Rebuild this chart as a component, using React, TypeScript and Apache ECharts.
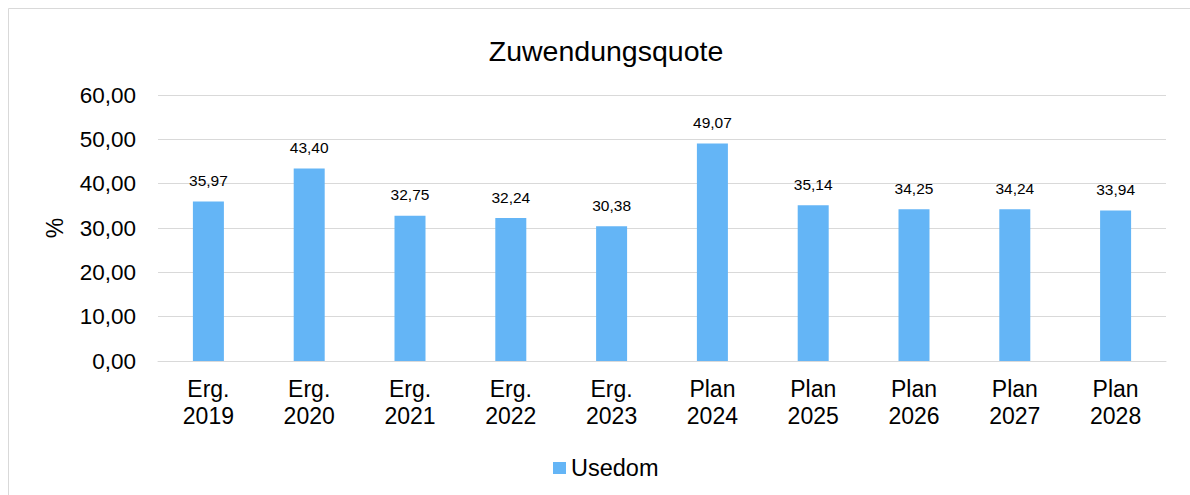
import React, { useEffect, useRef } from "react";
import * as echarts from "echarts";

const categories = [
  "Erg.\n2019", "Erg.\n2020", "Erg.\n2021", "Erg.\n2022", "Erg.\n2023",
  "Plan\n2024", "Plan\n2025", "Plan\n2026", "Plan\n2027", "Plan\n2028",
];
const usedom = [35.97, 43.4, 32.75, 32.24, 30.38, 49.07, 35.14, 34.25, 34.24, 33.94];
const seriesName = "Usedom";
const titleText = "Zuwendungsquote";
const yAxisName = "%";

const fmt = (v: number) => v.toFixed(2).replace(".", ",");

export default function App() {
  const ref = useRef<HTMLDivElement>(null);
  useEffect(() => {
    if (!ref.current) return;
    const chart = echarts.init(ref.current, null, { renderer: "svg" });
    const font = "'Liberation Sans', Arial, sans-serif";
    chart.setOption({
      animation: false,
      backgroundColor: "#ffffff",
      textStyle: { fontFamily: font },
      title: {
        text: titleText,
        left: 601,
        top: 31,
        textAlign: "center",
        textStyle: { fontFamily: font, fontSize: 28.5, fontWeight: "normal", color: "#000" },
      },
      legend: {
        data: [seriesName],
        left: 548,
        top: 451,
        itemWidth: 13,
        itemHeight: 12,
        itemGap: 4,
        icon: "rect",
        textStyle: { fontFamily: font, fontSize: 23.5, color: "#000", padding: [0, 0, 0, 0] },
      },
      graphic: [
        {
          type: "rect",
          shape: { x: 8.5, y: 8.5, width: 1300, height: 600 },
          style: { fill: "none", stroke: "#d9d9d9", lineWidth: 1 },
          silent: true,
        },
      ],
      grid: { left: 158, right: 24, top: 95, bottom: 134 },
      xAxis: {
        type: "category",
        data: categories,
        axisLine: { show: true, lineStyle: { color: "#d9d9d9", width: 1 } },
        axisTick: { show: false },
        axisLabel: {
          fontFamily: font,
          fontSize: 23,
          color: "#000",
          lineHeight: 27,
          margin: 14,
          interval: 0,
        },
      },
      yAxis: {
        type: "value",
        min: 0,
        max: 60,
        interval: 10,
        name: yAxisName,
        nameLocation: "middle",
        nameGap: 92,
        nameRotate: 90,
        nameTextStyle: { fontFamily: font, fontSize: 23, color: "#000" },
        axisLine: { show: false },
        axisTick: { show: false },
        splitLine: { lineStyle: { color: "#d9d9d9", width: 1 } },
        axisLabel: {
          fontFamily: font,
          fontSize: 22.5,
          color: "#000",
          margin: 22,
          formatter: (v: number) => fmt(v),
        },
      },
      series: [
        {
          name: seriesName,
          type: "bar",
          data: usedom,
          barWidth: 31,
          itemStyle: { color: "#64B5F6" },
          label: {
            show: true,
            position: "top",
            distance: 13,
            fontFamily: font,
            fontSize: 15.5,
            color: "#000",
            formatter: (p: any) => fmt(p.value),
          },
        },
      ],
    });
    return () => chart.dispose();
  }, []);
  return (
    <div style={{ position: "fixed", left: 0, top: 0, width: 1190, height: 495 }}>
      <div ref={ref} style={{ width: 1190, height: 495 }} />
    </div>
  );
}
